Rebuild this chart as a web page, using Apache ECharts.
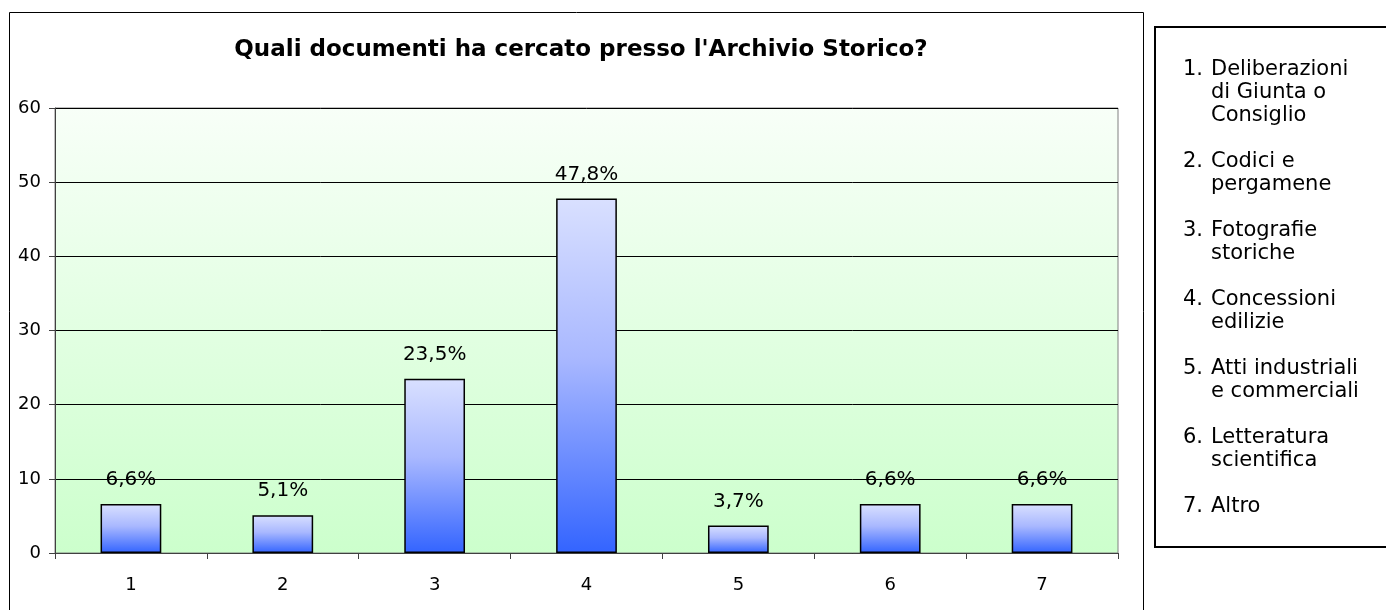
<!DOCTYPE html>
<html>
<head>
<meta charset="utf-8">
<script src="https://cdn.jsdelivr.net/npm/echarts@6/dist/echarts.min.js"></script>
<style>
  html, body { margin: 0; padding: 0; background: #fff; }
  #chart { width: 1386px; height: 610px; }
</style>
</head>
<body>
<div id="chart"></div>
<script>
var titleText = "Quali documenti ha cercato presso l'Archivio Storico?"
var categories = ['1', '2', '3', '4', '5', '6', '7']
var values = [6.6, 5.1, 23.5, 47.8, 3.7, 6.6, 6.6]
var yTicks = [0, 10, 20, 30, 40, 50, 60]
var legendItems = [
  ['Deliberazioni', 'di Giunta o', 'Consiglio'],
  ['Codici e', 'pergamene'],
  ['Fotografie', 'storiche'],
  ['Concessioni', 'edilizie'],
  ['Atti industriali', 'e commerciali'],
  ['Letteratura', 'scientifica'],
  ['Altro']
]

var FONT = '"DejaVu Sans", Verdana, sans-serif'
var chart = echarts.init(document.getElementById('chart'))

// legend box built as graphic texts
var legendGraphics = [
  {
    type: 'rect',
    shape: { x: 1155, y: 27, width: 240, height: 520 },
    style: { fill: '#fff', stroke: '#000', lineWidth: 2 },
    z: 10
  }
]
var ly = 58
legendItems.forEach(function (lines, i) {
  legendGraphics.push({
    type: 'text',
    x: 1183,
    y: ly,
    style: { text: (i + 1) + '.', font: '21px ' + FONT, fill: '#000', lineHeight: 23 },
    z: 11
  })
  legendGraphics.push({
    type: 'text',
    x: 1211,
    y: ly,
    style: { text: lines.join('\n'), font: '21px ' + FONT, fill: '#000', lineHeight: 23 },
    z: 11
  })
  ly += lines.length * 23 + 23
})

var option = {
  backgroundColor: '#fff',
  animation: false,
  title: {
    text: titleText,
    left: 576,
    top: 34,
    textAlign: 'center',
    textStyle: { fontFamily: FONT, fontSize: 23, fontWeight: 'bold', color: '#000' }
  },
  grid: {
    left: 55,
    right: 268,
    top: 108,
    bottom: 57,
    show: true,
    borderColor: '#808080',
    borderWidth: 1,
    backgroundColor: new echarts.graphic.LinearGradient(0, 0, 0, 1, [
      { offset: 0, color: '#f8fff8' },
      { offset: 1, color: '#ccffcc' }
    ])
  },
  xAxis: {
    type: 'category',
    data: categories,
    axisLine: { lineStyle: { color: '#404040', width: 1 } },
    axisTick: { show: true, alignWithLabel: false, length: 6, lineStyle: { color: '#404040' } },
    axisLabel: { color: '#000', fontFamily: FONT, fontSize: 18, margin: 23 }
  },
  yAxis: {
    type: 'value',
    min: yTicks[0],
    max: yTicks[yTicks.length - 1],
    interval: yTicks[1] - yTicks[0],
    axisLine: { show: true, lineStyle: { color: '#404040', width: 1 } },
    axisTick: { show: true, length: 6, lineStyle: { color: '#404040' } },
    axisLabel: { color: '#000', fontFamily: FONT, fontSize: 18, margin: 14 },
    splitLine: { show: true, lineStyle: { color: '#000', width: 1 } }
  },
  series: [
    {
      type: 'bar',
      data: values,
      barWidth: '40%',
      itemStyle: {
        borderColor: '#000',
        borderWidth: 1.5,
        color: new echarts.graphic.LinearGradient(0, 0, 0, 1, [
          { offset: 0, color: '#d9e0ff' },
          { offset: 0.45, color: '#a9b8ff' },
          { offset: 1, color: '#3364ff' }
        ])
      },
      label: {
        show: true,
        position: 'top',
        distance: 14,
        color: '#000',
        fontFamily: FONT,
        fontSize: 20,
        formatter: function (p) {
          return p.value.toFixed(1).replace('.', ',') + '%'
        }
      }
    }
  ],
  graphic: [
    {
      type: 'rect',
      shape: { x: 9.5, y: 12.5, width: 1134, height: 620 },
      style: { fill: 'none', stroke: '#000', lineWidth: 1 },
      z: 10
    }
  ].concat(legendGraphics)
}

chart.setOption(option)
</script>
</body>
</html>
